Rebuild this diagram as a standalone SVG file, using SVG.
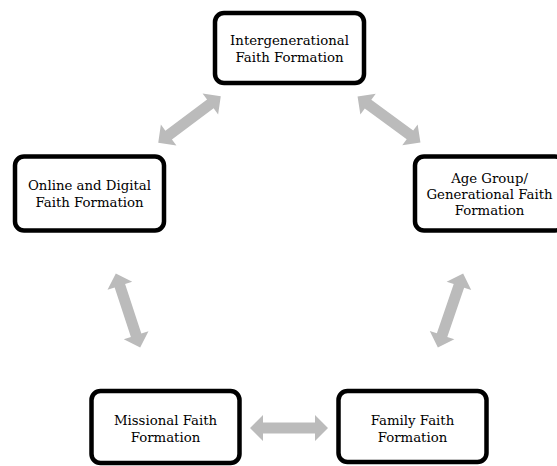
<svg xmlns="http://www.w3.org/2000/svg" xmlns:xlink="http://www.w3.org/1999/xlink" width="557" height="466" viewBox="0 0 557 466">
  <style>
    .box { fill: #ffffff; stroke: #000000; stroke-width: 4.5; }
    .lbl { font-family: "DejaVu Serif", "Liberation Serif", serif; font-size: 13.3px; fill: #000000; text-anchor: middle; }
    .arr { fill: #bbbbbb; stroke: none; }
  </style>
  <defs>
    <path id="dblarrow" d="M -39 0 L -26 -13 L -26 -5.5 L 26 -5.5 L 26 -13 L 39 0 L 26 13 L 26 5.5 L -26 5.5 L -26 13 Z"/>
  </defs>
  <rect width="557" height="466" fill="#ffffff"/>
  <g id="connectors">
    <use xlink:href="#dblarrow" class="arr" transform="translate(189.5,119.5) rotate(-36.7)"/>
    <use xlink:href="#dblarrow" class="arr" transform="translate(389,119.5) rotate(36.3)"/>
    <use xlink:href="#dblarrow" class="arr" transform="translate(128,310.5) rotate(71.8)"/>
    <use xlink:href="#dblarrow" class="arr" transform="translate(450.5,310.5) rotate(108.9)"/>
    <use xlink:href="#dblarrow" class="arr" transform="translate(289,428)"/>
  </g>
  <g id="intergenerational">
    <rect class="box" x="215" y="13" width="149" height="70" rx="9"/>
    <text class="lbl" x="289.5" y="45">Intergenerational</text>
    <text class="lbl" x="289.5" y="62">Faith Formation</text>
  </g>
  <g id="online">
    <rect class="box" x="15" y="156.5" width="149" height="74" rx="9"/>
    <text class="lbl" x="89.5" y="190">Online and Digital</text>
    <text class="lbl" x="89.5" y="206.5">Faith Formation</text>
  </g>
  <g id="agegroup">
    <rect class="box" x="415" y="156.5" width="149" height="74" rx="9"/>
    <text class="lbl" x="489.5" y="183">Age Group/</text>
    <text class="lbl" x="489.5" y="199">Generational Faith</text>
    <text class="lbl" x="489.5" y="215">Formation</text>
  </g>
  <g id="missional">
    <rect class="box" x="91.5" y="391" width="148" height="72" rx="9"/>
    <text class="lbl" x="165.5" y="425">Missional Faith</text>
    <text class="lbl" x="165.5" y="441.5">Formation</text>
  </g>
  <g id="family">
    <rect class="box" x="338.5" y="391" width="148" height="71" rx="9"/>
    <text class="lbl" x="412.5" y="425">Family Faith</text>
    <text class="lbl" x="412.5" y="441.5">Formation</text>
  </g>
</svg>
